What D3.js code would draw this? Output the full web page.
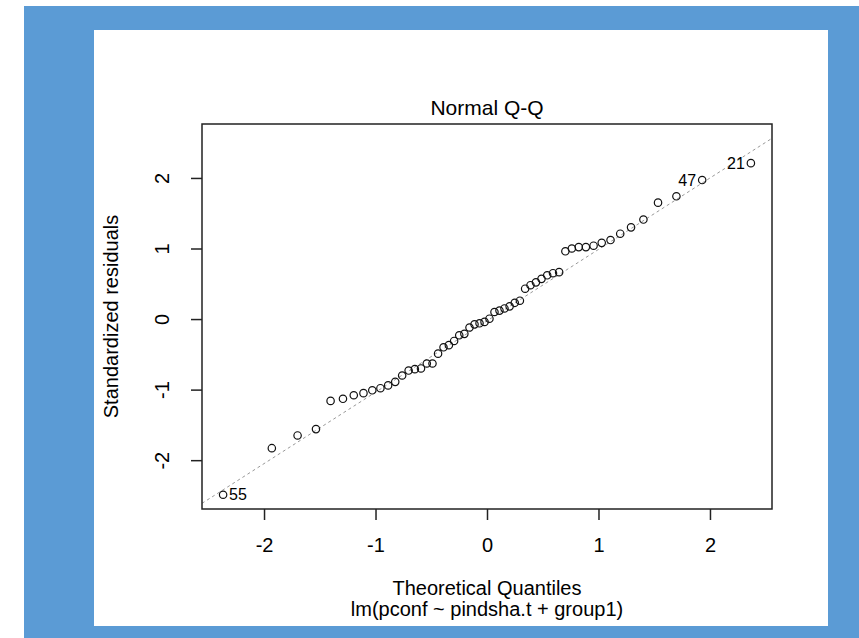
<!DOCTYPE html>
<html>
<head>
<meta charset="utf-8">
<script src="https://cdn.jsdelivr.net/npm/d3@7"></script>
<style>
  body { margin: 0; background: #fff; }
  svg text { font-family: "Liberation Sans", Arial, sans-serif; fill: #000; }
</style>
</head>
<body>
<svg id="chart" width="859" height="638"></svg>
<script>
// theoretical quantiles (sorted) and standardized residuals (sorted)
const theoreticalQ = [-2.367,-1.930,-1.699,-1.534,-1.403,-1.292,-1.195,-1.108,-1.029,-0.956,-0.887,-0.823,-0.761,-0.703,
  -0.647,-0.592,-0.540,-0.489,-0.439,-0.390,-0.342,-0.295,-0.249,-0.203,-0.157,-0.112,-0.067,-0.022,
  0.022,0.067,0.112,0.157,0.203,0.249,0.295,0.342,0.390,0.439,0.489,0.540,0.592,0.647,
  0.703,0.761,0.823,0.887,0.956,1.029,1.108,1.195,1.292,1.403,1.534,1.699,1.930,2.367];
const stdResiduals = [-2.49,-1.83,-1.65,-1.56,-1.16,-1.13,-1.08,-1.05,-1.01,-0.98,-0.94,-0.89,-0.80,-0.73,
  -0.71,-0.70,-0.63,-0.63,-0.49,-0.40,-0.37,-0.31,-0.23,-0.21,-0.12,-0.075,-0.06,-0.04,
  0.005,0.10,0.12,0.15,0.18,0.23,0.26,0.43,0.48,0.52,0.57,0.62,0.65,0.665,
  0.96,1.00,1.02,1.02,1.04,1.08,1.12,1.21,1.30,1.41,1.65,1.74,1.97,2.21];
// labelled extreme points: rank in sorted order -> observation id
const pointLabels = [{rank: 0, id: "55"}, {rank: 54, id: "47"}, {rank: 55, id: "21"}];
const xTicks = [-2, -1, 0, 1, 2];
const yTicks = [-2, -1, 0, 1, 2];
const qqLine = {intercept: -0.025, slope: 1.012};
const titleText = "Normal Q-Q";
const xLabel = "Theoretical Quantiles";
const subLabel = "lm(pconf ~ pindsha.t + group1)";
const yLabel = "Standardized residuals";

const svg = d3.select("#chart");
const box = {left: 202, right: 772, top: 124, bottom: 509};

// blue frame + white panel
svg.append("rect").attr("x", 24).attr("y", 6).attr("width", 835).attr("height", 632).attr("fill", "#5b9bd5");
svg.append("rect").attr("x", 94).attr("y", 30).attr("width", 734).attr("height", 596).attr("fill", "#fff");

// R style limits: 4% padding, y gets extra 7.5% headroom for labels
const data = theoreticalQ.map((q, i) => ({x: q, y: stdResiduals[i]}));
const xr = d3.extent(data, d => d.x);
const yr = d3.extent(data, d => d.y);
yr[1] = yr[1] + (yr[1] - yr[0]) * 0.075;
const pad = (r) => [r[0] - (r[1] - r[0]) * 0.04, r[1] + (r[1] - r[0]) * 0.04];

const x = d3.scaleLinear(pad(xr), [box.left, box.right]);
const y = d3.scaleLinear(pad(yr), [box.bottom, box.top]);

svg.append("clipPath").attr("id", "plotclip")
  .append("rect").attr("x", box.left).attr("y", box.top)
  .attr("width", box.right - box.left).attr("height", box.bottom - box.top);

// qq reference line
const xd = x.domain();
svg.append("line")
  .attr("clip-path", "url(#plotclip)")
  .attr("x1", x(xd[0])).attr("y1", y(qqLine.intercept + qqLine.slope * xd[0]))
  .attr("x2", x(xd[1])).attr("y2", y(qqLine.intercept + qqLine.slope * xd[1]))
  .attr("stroke", "#999").attr("stroke-width", 1).attr("stroke-dasharray", "3,3");

// points
svg.append("g").selectAll("circle")
  .data(data)
  .enter()
  .append("circle")
  .attr("cx", d => x(d.x))
  .attr("cy", d => y(d.y))
  .attr("r", 3.7)
  .attr("fill", "none")
  .attr("stroke", "#111")
  .attr("stroke-width", 1.2);

// point ids
svg.append("g").selectAll("text")
  .data(pointLabels)
  .enter()
  .append("text")
  .attr("x", d => data[d.rank].x < 0 ? x(data[d.rank].x) + 6 : x(data[d.rank].x) - 6)
  .attr("y", d => y(data[d.rank].y) + 5.5)
  .attr("text-anchor", d => data[d.rank].x < 0 ? "start" : "end")
  .attr("font-size", 16)
  .text(d => d.id);

// box
svg.append("rect")
  .attr("x", box.left).attr("y", box.top)
  .attr("width", box.right - box.left).attr("height", box.bottom - box.top)
  .attr("fill", "none").attr("stroke", "#222").attr("stroke-width", 1.5);

// bottom axis
const gx = svg.append("g").attr("transform", `translate(0,${box.bottom})`)
  .call(d3.axisBottom(x).tickValues(xTicks).tickSize(11).tickPadding(18).tickFormat(d3.format("d")));
gx.select(".domain").remove();
gx.selectAll("line").attr("stroke", "#222").attr("stroke-width", 1.5);
gx.selectAll("text").attr("font-size", 20).attr("font-family", null).attr("fill", "#000")
  .text(d => d < 0 ? "-" + Math.abs(d) : d);

// left axis, labels rotated like R's las=0
const gy = svg.append("g").attr("transform", `translate(${box.left},0)`)
  .call(d3.axisLeft(y).tickValues(yTicks).tickSize(11).tickFormat(d3.format("d")));
gy.select(".domain").remove();
gy.selectAll("line").attr("stroke", "#222").attr("stroke-width", 1.5);
gy.selectAll("text")
  .attr("font-size", 20).attr("font-family", null).attr("fill", "#000")
  .attr("x", null).attr("dy", null)
  .attr("text-anchor", "middle")
  .attr("transform", "translate(-33,0) rotate(-90)")
  .text(d => d < 0 ? "-" + Math.abs(d) : d);

// titles
svg.append("text").attr("x", (box.left + box.right) / 2).attr("y", 115)
  .attr("text-anchor", "middle").attr("font-size", 21).text(titleText);
svg.append("text").attr("x", (box.left + box.right) / 2).attr("y", 595)
  .attr("text-anchor", "middle").attr("font-size", 20).text(xLabel);
svg.append("text").attr("x", (box.left + box.right) / 2).attr("y", 616)
  .attr("text-anchor", "middle").attr("font-size", 20).text(subLabel);
svg.append("text")
  .attr("transform", `translate(118,${(box.top + box.bottom) / 2}) rotate(-90)`)
  .attr("text-anchor", "middle").attr("font-size", 20).text(yLabel);
</script>
</body>
</html>
